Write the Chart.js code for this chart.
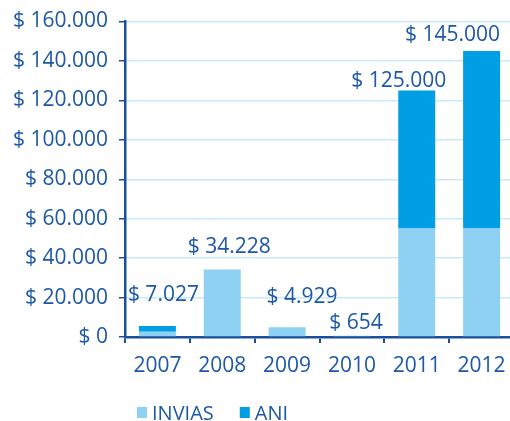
<!DOCTYPE html>
<html>
<head>
<meta charset="utf-8">
<script src="https://cdn.jsdelivr.net/npm/chart.js@4/dist/chart.umd.min.js"></script>
<style>
  html, body { margin: 0; padding: 0; background: #fff; overflow: hidden; }
  #wrap { position: relative; width: 516px; height: 421px; }
</style>
</head>
<body>
<div id="wrap"><canvas id="fundsChart"></canvas></div>
<script>
const years = ['2007', '2008', '2009', '2010', '2011', '2012'];
const invias = [2600, 34228, 4929, 654, 55000, 55000];
const ani = [3000, 0, 0, 0, 70000, 90000];
const totals = [7027, 34228, 4929, 654, 125000, 145000];
const seriesNames = ['INVIAS', 'ANI'];

// label nudges, the labels in the source are placed by hand
const labelDx = [6, 7, 15, 4, -18, -29];
const labelDy = [31, 22, 30, 13, 10, 16];

const TEXT = '#1d58a8';
const AXIS = '#1b4f9e';
const LIGHT = '#8ed1f2';
const DARK = '#009ee2';
const GRID = '#c9eaf8';
const FONT = "'Open Sans', sans-serif";

function money(v) {
  return '$ ' + String(v).replace(/\B(?=(\d{3})+(?!\d))/g, '.');
}

// totals above each bar
const totalLabels = {
  id: 'totalLabels',
  afterDatasetsDraw(chart) {
    const ctx = chart.ctx;
    const top = chart.getDatasetMeta(chart.data.datasets.length - 1);
    const base = chart.getDatasetMeta(0);
    ctx.save();
    ctx.font = '21px ' + FONT;
    ctx.fillStyle = TEXT;
    ctx.textAlign = 'center';
    ctx.textBaseline = 'middle';
    totals.forEach((t, i) => {
      const bar = top.data[i];
      const y = Math.min(bar.y, base.data[i].y);
      ctx.fillText(money(t), bar.x + labelDx[i], y - labelDy[i]);
    });
    ctx.restore();
  }
};

// legend drawn by hand so it can sit left of centre like the source
const bottomLegend = {
  id: 'bottomLegend',
  afterDraw(chart) {
    const ctx = chart.ctx;
    ctx.save();
    ctx.font = '20px ' + FONT;
    ctx.textBaseline = 'middle';
    let x = 137;
    const y = 414;
    chart.data.datasets.forEach(ds => {
      ctx.fillStyle = ds.backgroundColor;
      ctx.fillRect(x, y - 7, 10, 11);
      ctx.fillStyle = TEXT;
      ctx.fillText(ds.label, x + 15, y);
      x += 15 + ctx.measureText(ds.label).width + 26;
    });
    ctx.restore();
  }
};

new Chart(document.getElementById('fundsChart'), {
  type: 'bar',
  data: {
    labels: years,
    datasets: [
      { label: seriesNames[0], data: invias, backgroundColor: LIGHT },
      { label: seriesNames[1], data: ani, backgroundColor: DARK }
    ]
  },
  options: {
    responsive: true,
    maintainAspectRatio: false,
    animation: false,
    layout: { padding: { top: 20, right: 2, left: 0, bottom: 0 } },
    datasets: { bar: { barPercentage: 0.57, categoryPercentage: 1 } },
    plugins: {
      legend: { display: false },
      tooltip: { enabled: false }
    },
    scales: {
      x: {
        stacked: true,
        afterFit(scale) { scale.height = 84; },
        border: { color: AXIS, width: 2.5 },
        grid: { drawOnChartArea: false, tickColor: AXIS, tickLength: 6, lineWidth: 2 },
        ticks: { color: TEXT, font: { family: FONT, size: 21 }, padding: 10 }
      },
      y: {
        stacked: true,
        min: 0,
        max: 160000,
        afterFit(scale) { scale.width = 125; },
        border: { color: AXIS, width: 2.5 },
        grid: { color: GRID, lineWidth: 1.5, tickColor: AXIS, tickLength: 6 },
        ticks: {
          stepSize: 20000,
          color: TEXT,
          font: { family: FONT, size: 21, lineHeight: 1 },
          padding: 11,
          callback: v => money(v)
        }
      }
    }
  },
  plugins: [totalLabels, bottomLegend]
});
</script>
</body>
</html>
